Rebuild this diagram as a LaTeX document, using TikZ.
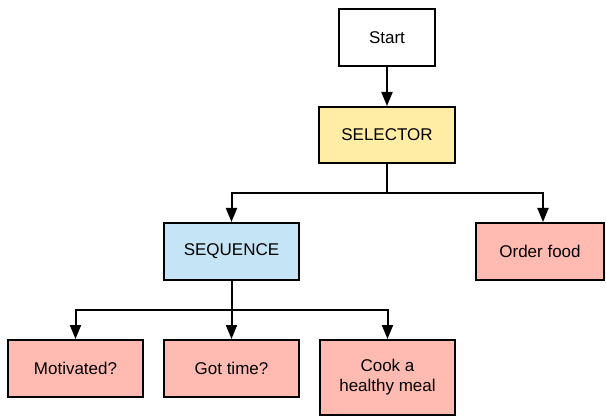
\documentclass[tikz,border=0pt]{standalone}
\usepackage{fontspec}
\setmainfont{Liberation Sans}
\usetikzlibrary{arrows.meta}
\definecolor{selyellow}{RGB}{255,237,166}
\definecolor{seqblue}{RGB}{197,228,245}
\definecolor{leafpink}{RGB}{255,187,178}
\tikzset{
  box/.style={draw=black, line width=2pt, rectangle, minimum width=135pt, minimum height=57pt, inner sep=0pt, align=center, font=\fontsize{17}{20}\selectfont, text=black},
  conn/.style={draw=black, line width=2pt},
  arr/.style={conn, -{Triangle[length=14pt,width=11pt]}}
}
\begin{document}
\begin{tikzpicture}[x=1pt,y=-1pt]
\useasboundingbox (0,0) rectangle (606,417);
\node[box, fill=white, minimum width=96pt] (start) at (387,37.5) {Start};
\node[box, fill=selyellow, minimum width=136pt, minimum height=56pt] (sel) at (387,135) {SELECTOR};
\node[box, fill=seqblue] (seq) at (231.5,251.5) {SEQUENCE};
\node[box, fill=leafpink, minimum width=128pt] (order) at (540,251.5) {Order food};
\node[box, fill=leafpink] (mot) at (75.5,368.5) {Motivated?};
\node[box, fill=leafpink] (got) at (231.5,368.5) {Got time?};
\node[box, fill=leafpink, minimum height=75pt] (cook) at (387.5,377.5) {Cook a\\healthy meal};
\coordinate (j1) at (387,193);
\coordinate (j2) at (231.5,310);
\draw[arr] (start) -- (sel);
\draw[conn] (sel.south) -- (j1);
\draw[arr] (j1) -| (seq.north);
\draw[arr] (j1) -| ([xshift=3pt]order.north);
\draw[conn] (seq.south) -- (j2);
\draw[arr] (j2) -| (mot.north);
\draw[arr] (j2) -- (got.north);
\draw[arr] (j2) -| (cook.north);
\end{tikzpicture}
\end{document}
